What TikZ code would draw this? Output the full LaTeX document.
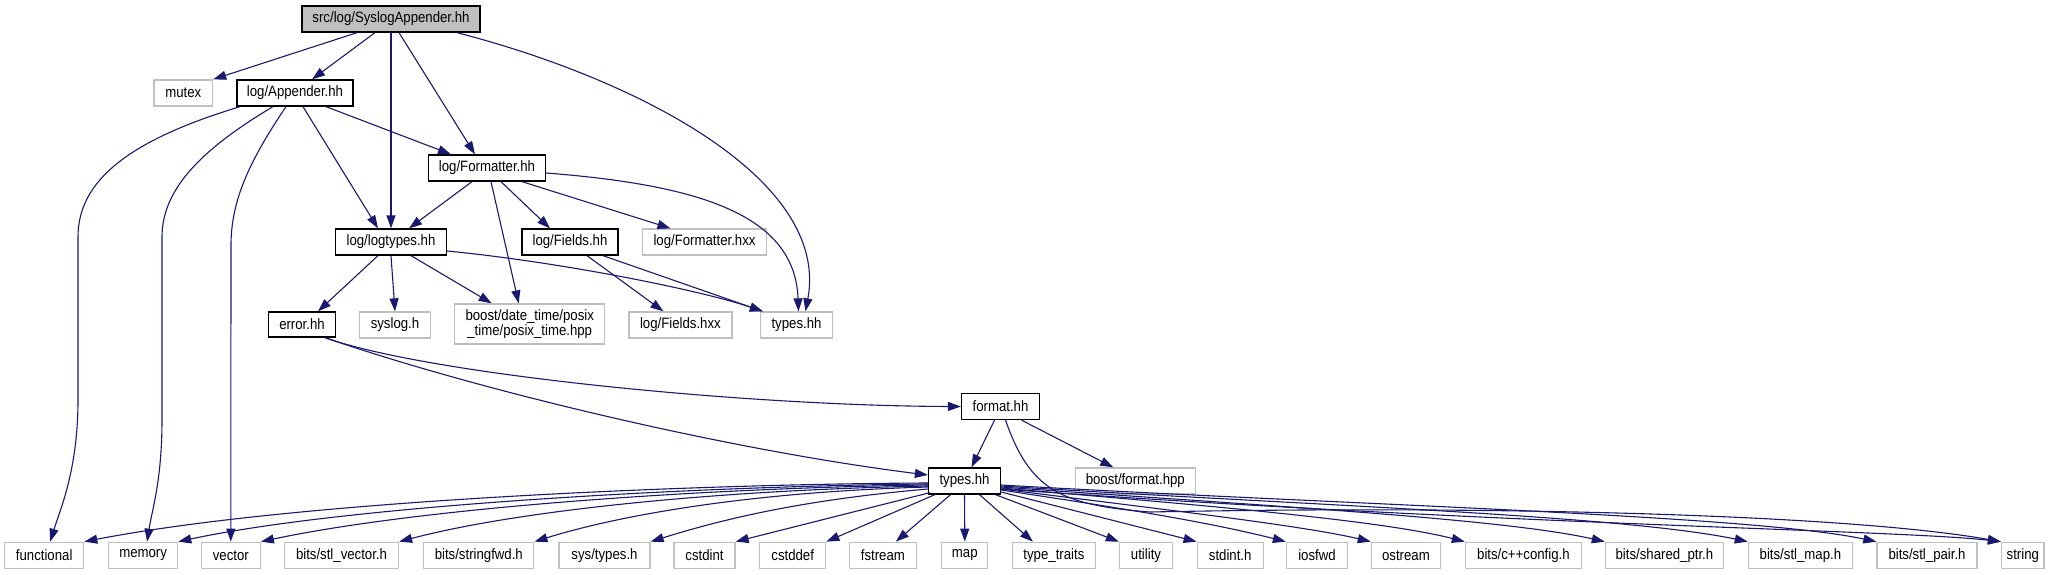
\documentclass[tikz,border=0pt]{standalone}
\usepackage{fontspec}
\setmainfont{Liberation Sans}[FakeStretch=0.88]
\usetikzlibrary{arrows.meta,calc}
\definecolor{edgec}{RGB}{25,25,112}
\definecolor{grayb}{RGB}{191,191,191}
\begin{document}
\begin{tikzpicture}[x=1pt,y=-1pt,
  box/.style={draw=black,line width=1.3pt,fill=white,inner sep=0pt,minimum height=26pt,font=\fontsize{15}{14.5}\selectfont,align=center},
  ext/.style={box,draw=grayb},
  rootbox/.style={box,fill=grayb},
  dep/.style={draw=edgec,line width=1.1pt,-{Triangle[length=13pt,width=9pt]}}
]
\useasboundingbox (0,0) rectangle (2061,575);
% nodes
\node[rootbox,minimum width=178pt] (root) at (391,19) {src/log/SyslogAppender.hh};
\node[ext,minimum width=58.5pt] (mutex) at (183.3,93) {mutex};
\node[box,minimum width=116pt] (appender) at (295,93) {log/Appender.hh};
\node[box,minimum width=117pt] (formatter) at (487,168) {log/Formatter.hh};
\node[box,minimum width=111pt] (logtypes) at (391,242) {log/logtypes.hh};
\node[box,minimum width=96pt] (fields) at (570,242) {log/Fields.hh};
\node[ext,minimum width=124pt] (fmthxx) at (704.5,242) {log/Formatter.hxx};
\node[box,minimum width=67pt,minimum height=25pt] (error) at (302,324.5) {error.hh};
\node[ext,minimum width=71pt] (syslog) at (395,325) {syslog.h};
\node[ext,minimum width=150pt,minimum height=40pt] (boostdt) at (529.7,324) {boost/date\_time/posix\\\_time/posix\_time.hpp};
\node[ext,minimum width=103pt] (fieldshxx) at (680.4,325) {log/Fields.hxx};
\node[ext,minimum width=72pt] (typesg) at (796.5,325) {types.hh};
\node[box,minimum width=78pt] (format) at (1000.5,406.5) {format.hh};
\node[box,minimum width=72pt] (types) at (964.5,481) {types.hh};
\node[ext,minimum width=120pt] (boostfmt) at (1135.3,481) {boost/format.hpp};
% bottom row
\node[ext,minimum width=79pt] (functional) at (44.2,555.3) {functional};
\node[ext,minimum width=69pt] (memory) at (143.1,555.3) {memory};
\node[ext,minimum width=59pt] (vector) at (230.8,555.3) {vector};
\node[ext,minimum width=114pt] (stlvector) at (341.5,555.3) {bits/stl\_vector.h};
\node[ext,minimum width=110pt] (stringfwd) at (478.8,555.3) {bits/stringfwd.h};
\node[ext,minimum width=91pt] (systypes) at (604.5,555.3) {sys/types.h};
\node[ext,minimum width=61pt] (cstdint) at (704.5,555.3) {cstdint};
\node[ext,minimum width=66pt] (cstddef) at (792.7,555.3) {cstddef};
\node[ext,minimum width=67pt] (fstream) at (882.9,555.3) {fstream};
\node[ext,minimum width=46pt] (map) at (964.8,555.3) {map};
\node[ext,minimum width=83pt] (typetraits) at (1053.9,555.3) {type\_traits};
\node[ext,minimum width=53pt] (utility) at (1146,555.3) {utility};
\node[ext,minimum width=66pt] (stdint) at (1230.2,555.3) {stdint.h};
\node[ext,minimum width=61pt] (iosfwd) at (1317,555.3) {iosfwd};
\node[ext,minimum width=69pt] (ostream) at (1405.9,555.3) {ostream};
\node[ext,minimum width=116pt] (cppconfig) at (1523.4,555.3) {bits/c++config.h};
\node[ext,minimum width=118pt] (sharedptr) at (1664.4,555.3) {bits/shared\_ptr.h};
\node[ext,minimum width=104pt] (stlmap) at (1800.4,555.3) {bits/stl\_map.h};
\node[ext,minimum width=100pt] (stlpair) at (1927,555.3) {bits/stl\_pair.h};
\node[ext,minimum width=42.5pt] (string) at (2022.8,555.3) {string};
% edges from root
\draw[dep] ($(root.south)+(-34,0)$) -- (mutex.north east);
\draw[dep] ($(root.south)+(-16,0)$) -- ($(appender.north)+(17,0)$);
\draw[dep] (root.south) -- (logtypes.north);
\draw[dep] ($(root.south)+(8,0)$) -- ($(formatter.north)+(-12,0)$);
\draw[dep] ($(root.south)+(66,0)$) .. controls (640,80) and (830,180) .. ($(typesg.north)+(9,0)$);
% appender
\draw[dep] ($(appender.south)+(-55,0)$) .. controls (130,140) and (78,180) .. (78,237) -- (78,400) .. controls (78,470) and (60,510) .. ($(functional.north)+(6,0)$);
\draw[dep] ($(appender.south)+(-22,0)$) .. controls (200,150) and (162,190) .. (162,237) -- (162,420) .. controls (162,480) and (152,510) .. ($(memory.north)+(4,0)$);
\draw[dep] ($(appender.south)+(-9,0)$) .. controls (250,160) and (231,200) .. (231,245) -- (vector.north);
\draw[dep] ($(appender.south)+(8,0)$) -- ($(logtypes.north)+(-13,0)$);
\draw[dep] ($(appender.south)+(31,0)$) -- ($(formatter.north)+(-36,0)$);
% formatter
\draw[dep] ($(formatter.south)+(-15,0)$) -- ($(logtypes.north)+(18,0)$);
\draw[dep] ($(formatter.south)+(4,0)$) -- ($(boostdt.north)+(-11,0)$);
\draw[dep] ($(formatter.south)+(14,0)$) -- ($(fields.north)+(-20,0)$);
\draw[dep] ($(formatter.south)+(35,0)$) -- ($(fmthxx.north)+(-34,0)$);
\draw[dep] ($(formatter.east)+(0,5)$) .. controls (700,185) and (795,215) .. ($(typesg.north)+(2,0)$);
% logtypes
\draw[dep] ($(logtypes.south)+(-13,0)$) -- ($(error.north)+(16,0)$);
\draw[dep] (logtypes.south) -- (syslog.north);
\draw[dep] ($(logtypes.south)+(20,0)$) -- ($(boostdt.north)+(-38,0)$);
\draw[dep] ($(logtypes.east)+(0,9)$) .. controls (560,262) and (700,290) .. ($(typesg.north west)+(3,0)$);
% fields
\draw[dep] ($(fields.south)+(17,0)$) -- ($(fieldshxx.north)+(-17,0)$);
\draw[dep] ($(fields.south)+(33,0)$) -- ($(typesg.north west)+(3,0)$);
% error
\draw[dep] ($(error.south)+(23,0)$) .. controls (430,375) and (750,406) .. (format.west);
\draw[dep] ($(error.south)+(23,0)$) .. controls (477,390) and (728,450) .. ($(types.west)+(0,-6)$);
% format
\draw[dep] ($(format.south)+(-6,0)$) -- ($(types.north)+(7,0)$);
\draw[dep] ($(format.south)+(21,0)$) -- ($(boostfmt.north)+(-22,0)$);
\draw[dep] ($(format.south)+(5,0)$) .. controls (1030,490) and (1060,505) .. (1150,512) .. controls (1500,505) and (1850,515) .. (string.north west);
% types -> system headers
\draw[dep] ($(types.west)+(0,2)$) .. controls (700,484) and (300,500) .. (functional.north east);
\draw[dep] ($(types.west)+(0,3)$) .. controls (700,486) and (350,505) .. (memory.north east);
\draw[dep] ($(types.west)+(0,4)$) .. controls (700,488) and (420,508) .. (vector.north east);
\draw[dep] ($(types.west)+(0,5)$) .. controls (720,490) and (520,510) .. (stlvector.north east);
\draw[dep] ($(types.west)+(0,6)$) .. controls (750,492) and (620,515) .. (stringfwd.north east);
\draw[dep] ($(types.west)+(0,8)$) .. controls (800,500) and (720,520) .. (systypes.north east);
\draw[dep] ($(types.south west)+(2,-2)$) -- (cstdint.north east);
\draw[dep] ($(types.south west)+(7,0)$) -- (cstddef.north east);
\draw[dep] ($(types.south)+(-14,0)$) -- ($(fstream.north)+(13,0)$);
\draw[dep] (types.south) -- (map.north);
\draw[dep] ($(types.south)+(15,0)$) -- ($(typetraits.north)+(-21,0)$);
\draw[dep] ($(types.south)+(31,0)$) -- (utility.north west);
\draw[dep] ($(types.east)+(0,11)$) -- (stdint.north west);
\draw[dep] ($(types.east)+(0,9)$) .. controls (1100,505) and (1200,520) .. (iosfwd.north west);
\draw[dep] ($(types.east)+(0,8)$) .. controls (1150,508) and (1300,525) .. (ostream.north west);
\draw[dep] ($(types.east)+(0,7)$) .. controls (1200,505) and (1380,520) .. (cppconfig.north west);
\draw[dep] ($(types.east)+(0,6)$) .. controls (1250,505) and (1500,518) .. (sharedptr.north west);
\draw[dep] ($(types.east)+(0,5)$) .. controls (1300,505) and (1620,515) .. (stlmap.north west);
\draw[dep] ($(types.east)+(0,4)$) .. controls (1350,505) and (1750,515) .. (stlpair.north west);
\draw[dep] ($(types.east)+(0,8)$) .. controls (1500,525) and (1900,530) .. (string.north west);
\end{tikzpicture}
\end{document}
